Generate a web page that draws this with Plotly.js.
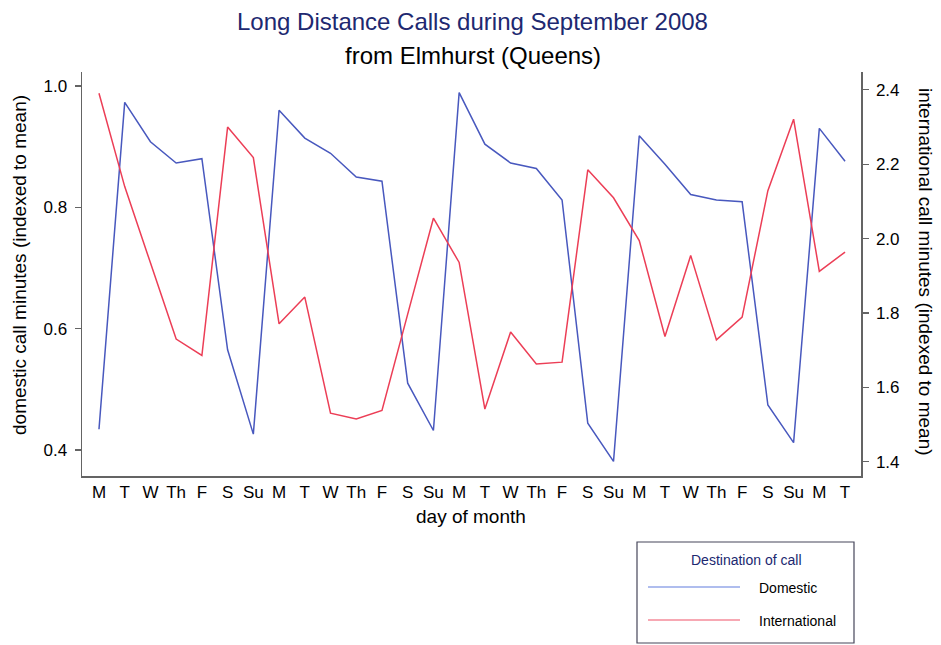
<!DOCTYPE html>
<html>
<head>
<meta charset="utf-8">
<script src="https://cdn.plot.ly/plotly-3.0.1.min.js"></script>
<style>
  html, body { margin: 0; padding: 0; background: #ffffff; }
  #chart { width: 941px; height: 645px; }
</style>
</head>
<body>
<div id="chart"></div>
<script>
// Day of month, September 2008 (the 1st was a Monday)
const days = [1, 2, 3, 4, 5, 6, 7, 8, 9, 10, 11, 12, 13, 14, 15,
              16, 17, 18, 19, 20, 21, 22, 23, 24, 25, 26, 27, 28, 29, 30];
const weekdayLabels = ["M", "T", "W", "Th", "F", "S", "Su", "M", "T", "W", "Th", "F", "S", "Su", "M",
                       "T", "W", "Th", "F", "S", "Su", "M", "T", "W", "Th", "F", "S", "Su", "M", "T"];

// Call minutes, indexed to the mean
const domestic = [0.434, 0.973, 0.908, 0.873, 0.880, 0.565, 0.426, 0.960, 0.914, 0.889,
                  0.850, 0.843, 0.510, 0.432, 0.989, 0.904, 0.873, 0.864, 0.812, 0.444,
                  0.381, 0.918, 0.871, 0.821, 0.812, 0.809, 0.474, 0.412, 0.930, 0.876];
const international = [2.391, 2.140, 1.935, 1.730, 1.686, 2.300, 2.218, 1.771, 1.843, 1.531,
                       1.515, 1.538, 1.797, 2.055, 1.936, 1.542, 1.749, 1.663, 1.668, 2.185,
                       2.110, 1.995, 1.737, 1.955, 1.728, 1.789, 2.129, 2.321, 1.912, 1.964];

const seriesNames = ["Domestic", "International"];
const legendTitle = "Destination of call";
const leftTicks = [0.4, 0.6, 0.8, 1.0];
const rightTicks = [1.4, 1.6, 1.8, 2.0, 2.2, 2.4];

const W = 941, H = 645;
const M = { l: 82, r: 80, t: 72, b: 169 };
const plotW = W - M.l - M.r, plotH = H - M.t - M.b;
// pixel -> paper coordinates
const px = x => (x - M.l) / plotW;
const py = y => (H - M.b - y) / plotH;

const FONT = "Liberation Sans, Arial, Helvetica, sans-serif";
const BLUE = "rgb(72, 88, 190)";
const RED = "rgb(236, 62, 86)";
const NAVY = "rgb(32, 40, 112)";
const AXIS = "rgb(100, 100, 100)";

const traces = [
  { x: days, y: domestic, name: seriesNames[0], type: "scatter", mode: "lines",
    line: { color: BLUE, width: 1.5 }, yaxis: "y", showlegend: false },
  { x: days, y: international, name: seriesNames[1], type: "scatter", mode: "lines",
    line: { color: RED, width: 1.5 }, yaxis: "y2", showlegend: false }
];

const layout = {
  width: W, height: H,
  margin: M,
  paper_bgcolor: "#ffffff",
  plot_bgcolor: "#ffffff",
  font: { family: FONT, color: "#000000", size: 17 },
  showlegend: false,
  xaxis: {
    range: [0.34, 30.62],
    tickmode: "array", tickvals: days, ticktext: weekdayLabels,
    ticks: "", showgrid: false, zeroline: false,
    showline: true, linecolor: AXIS, linewidth: 1.5,
    tickfont: { size: 17, color: "#000000" },
    fixedrange: true
  },
  yaxis: {
    range: [0.357, 1.023],
    tickmode: "array", tickvals: leftTicks,
    ticktext: leftTicks.map(v => v.toFixed(1)),
    ticks: "outside", ticklen: 6, tickwidth: 1.2, tickcolor: AXIS,
    ticklabelstandoff: 4,
    showgrid: false, zeroline: false,
    showline: true, linecolor: AXIS, linewidth: 1.5,
    tickfont: { size: 17, color: "#000000" }
  },
  yaxis2: {
    range: [1.362, 2.448],
    overlaying: "y", side: "right",
    tickmode: "array", tickvals: rightTicks,
    ticktext: rightTicks.map(v => v.toFixed(1)),
    ticks: "outside", ticklen: 6, tickwidth: 1.2, tickcolor: AXIS,
    ticklabelstandoff: 4,
    showgrid: false, zeroline: false,
    showline: true, linecolor: AXIS, linewidth: 1.5,
    tickfont: { size: 17, color: "#000000" }
  },
  annotations: [
    { text: "Long Distance Calls during September 2008", xref: "paper", yref: "paper",
      x: px(472), y: py(22), xanchor: "center", yanchor: "middle", showarrow: false,
      font: { family: FONT, size: 24, color: NAVY } },
    { text: "from Elmhurst (Queens)", xref: "paper", yref: "paper",
      x: px(473), y: py(56), xanchor: "center", yanchor: "middle", showarrow: false,
      font: { family: FONT, size: 24, color: "#000000" } },
    { text: "domestic call minutes (indexed to mean)", xref: "paper", yref: "paper",
      x: px(19), y: py(265), xanchor: "center", yanchor: "middle", textangle: -90,
      showarrow: false, font: { family: FONT, size: 19, color: "#000000" } },
    { text: "international call minutes (indexed to mean)", xref: "paper", yref: "paper",
      x: px(926), y: py(272), xanchor: "center", yanchor: "middle", textangle: 90,
      showarrow: false, font: { family: FONT, size: 19, color: "#000000" } },
    { text: "day of month", xref: "paper", yref: "paper",
      x: px(471), y: py(516), xanchor: "center", yanchor: "middle", showarrow: false,
      font: { family: FONT, size: 19, color: "#000000" } },
    // legend box texts
    { text: legendTitle, xref: "paper", yref: "paper",
      x: px(746), y: py(560), xanchor: "center", yanchor: "middle", showarrow: false,
      font: { family: FONT, size: 14, color: NAVY } },
    { text: seriesNames[0], xref: "paper", yref: "paper",
      x: px(757), y: py(588), xanchor: "left", yanchor: "middle", showarrow: false,
      font: { family: FONT, size: 14, color: "#000000" } },
    { text: seriesNames[1], xref: "paper", yref: "paper",
      x: px(757), y: py(621), xanchor: "left", yanchor: "middle", showarrow: false,
      font: { family: FONT, size: 14, color: "#000000" } }
  ],
  shapes: [
    // legend frame and key lines
    { type: "rect", xref: "paper", yref: "paper",
      x0: px(637), x1: px(854), y0: py(643), y1: py(542),
      line: { color: "rgb(70, 70, 90)", width: 1.2 }, fillcolor: "rgba(0,0,0,0)" },
    { type: "line", xref: "paper", yref: "paper",
      x0: px(648), x1: px(740), y0: py(587), y1: py(587),
      line: { color: "rgb(96, 124, 222)", width: 1.2 } },
    { type: "line", xref: "paper", yref: "paper",
      x0: px(648), x1: px(740), y0: py(620), y1: py(620),
      line: { color: "rgb(240, 82, 104)", width: 1.2 } }
  ]
};

Plotly.newPlot("chart", traces, layout, { displayModeBar: false, staticPlot: true });
</script>
</body>
</html>
